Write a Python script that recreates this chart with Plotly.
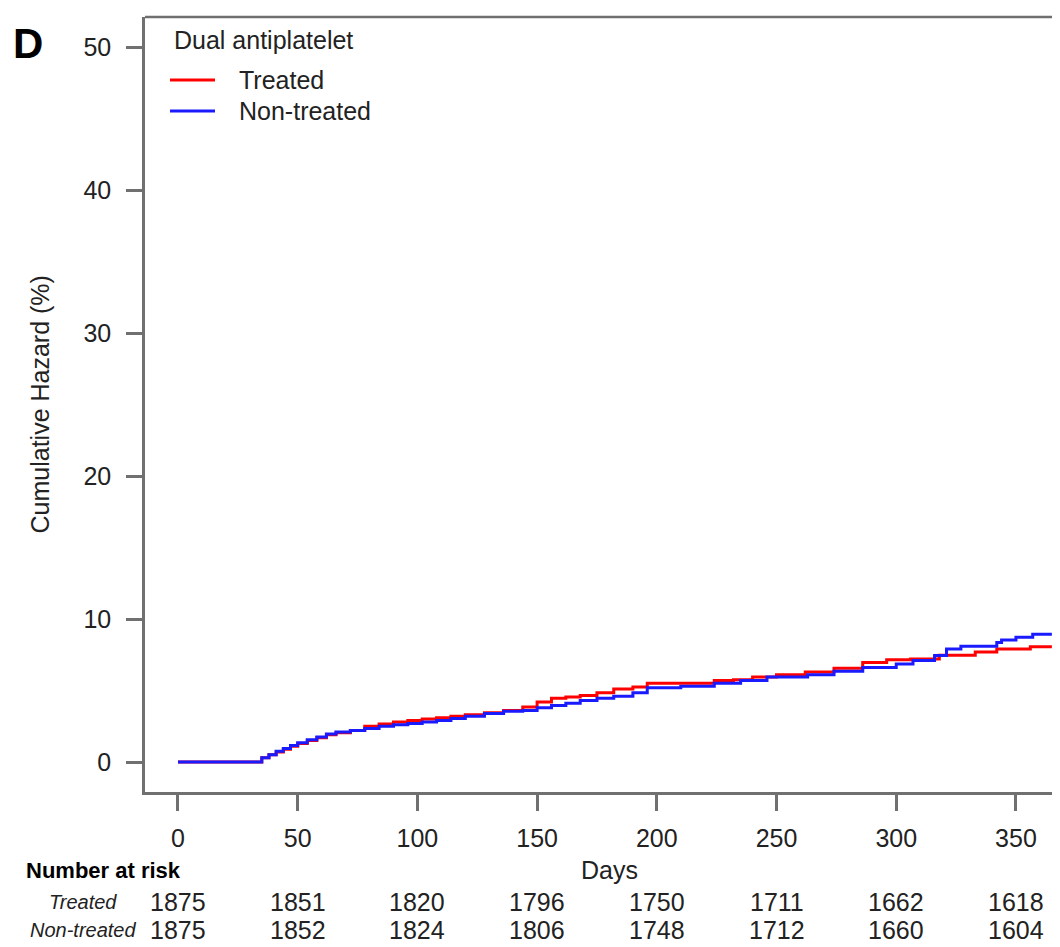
import plotly.graph_objects as go

# ---- data ----
treated_days = [0, 32, 35, 38, 41, 44, 47, 50, 54, 58, 62, 66, 72, 78, 84, 90, 96, 102, 108, 114,
                120, 128, 136, 144, 150, 156, 162, 168, 175, 182, 190, 196, 210, 224, 232, 240,
                250, 262, 274, 286, 296, 306, 318, 333, 342, 356, 365]
treated_haz = [0, 0, 0.3, 0.5, 0.7, 0.9, 1.1, 1.3, 1.5, 1.7, 1.9, 2.05, 2.2, 2.5, 2.65, 2.8, 2.9,
               3.0, 3.1, 3.2, 3.3, 3.45, 3.6, 3.85, 4.2, 4.45, 4.55, 4.65, 4.85, 5.1, 5.25, 5.5,
               5.5, 5.7, 5.75, 5.95, 6.1, 6.3, 6.55, 6.95, 7.15, 7.2, 7.47, 7.7, 7.9, 8.06, 8.06]

nontreated_days = [0, 32, 35, 38, 41, 44, 47, 50, 54, 58, 62, 66, 72, 78, 84, 90, 96, 102, 108,
                   114, 120, 128, 136, 144, 150, 156, 162, 168, 175, 182, 190, 196, 210, 224, 235,
                   246, 263, 274, 286, 300, 307, 316, 321, 327, 342, 344, 350, 357, 365]
nontreated_haz = [0, 0, 0.3, 0.5, 0.75, 0.95, 1.15, 1.35, 1.55, 1.75, 1.95, 2.1, 2.2, 2.35, 2.5,
                  2.6, 2.7, 2.8, 2.9, 3.05, 3.2, 3.4, 3.55, 3.6, 3.8, 3.95, 4.1, 4.3, 4.45, 4.6,
                  4.85, 5.2, 5.3, 5.5, 5.7, 5.95, 6.1, 6.35, 6.6, 6.85, 7.1, 7.45, 7.9, 8.1, 8.35,
                  8.53, 8.72, 8.93, 8.93]

x_ticks = [0, 50, 100, 150, 200, 250, 300, 350]
y_ticks = [0, 10, 20, 30, 40, 50]
risk_treated = [1875, 1851, 1820, 1796, 1750, 1711, 1662, 1618]
risk_nontreated = [1875, 1852, 1824, 1806, 1748, 1712, 1660, 1604]
series_names = ["Treated", "Non-treated"]
series_colors = ["#ff0000", "#1a1aff"]
legend_title = "Dual antiplatelet"

FONT = "Liberation Sans, Arial, sans-serif"
TXT = "#222222"
AX = "#707070"

OFF = 8  # default page body margin
W, H = 1060 - OFF, 947 - OFF
# desired plot box in page pixels: left 145, top 17, bottom 792, right 1060
ML = 145 - OFF
MT = 17 - OFF
MR = 0
MB = H - (792 - OFF)
PW = W - ML - MR
PH = H - MT - MB


def px_x(px):  # page pixel -> paper x
    return (px - OFF - ML) / PW


def px_y(py):  # page pixel -> paper y
    return (H - MB - (py - OFF)) / PH


fig = go.Figure()
fig.add_trace(go.Scatter(x=treated_days, y=treated_haz, mode="lines", name=series_names[0],
                         line=dict(color=series_colors[0], width=3, shape="hv"), showlegend=False))
fig.add_trace(go.Scatter(x=nontreated_days, y=nontreated_haz, mode="lines", name=series_names[1],
                         line=dict(color=series_colors[1], width=3, shape="hv"), showlegend=False))

fig.update_layout(
    width=W, height=H,
    margin=dict(l=ML, r=MR, t=MT, b=MB, pad=0),
    plot_bgcolor="white", paper_bgcolor="white",
    font=dict(family=FONT, size=25, color=TXT),
    showlegend=False,
    xaxis=dict(
        range=[-13.78, 368.4], tickvals=x_ticks, ticks="outside", ticklen=16, tickwidth=2.5,
        tickcolor=AX, showline=True, linecolor=AX, linewidth=2.5, showgrid=False, zeroline=False,
        tickfont=dict(size=25, color=TXT), ticklabelstandoff=6,
    ),
    yaxis=dict(
        range=[-2.098, 52.1], tickvals=y_ticks, ticks="outside", ticklen=16, tickwidth=2.5,
        tickcolor=AX, showline=True, linecolor=AX, linewidth=2.5, showgrid=False, zeroline=False,
        tickfont=dict(size=25, color=TXT), ticklabelstandoff=10,
    ),
)

# top frame line
fig.add_shape(type="line", xref="paper", yref="paper", x0=0, x1=1, y0=1, y1=1,
              line=dict(color=AX, width=2.5))

ann = []
# legend (key lines + labels)
ann.append(dict(text=legend_title, x=px_x(172), y=px_y(40), xref="paper", yref="paper",
                showarrow=False, font=dict(size=25, color=TXT), xanchor="left", yanchor="middle"))
for i, (nm, col) in enumerate(zip(series_names, series_colors)):
    ly = [80, 111][i]
    fig.add_shape(type="line", xref="paper", yref="paper", x0=px_x(170), x1=px_x(215),
                  y0=px_y(ly), y1=px_y(ly), line=dict(color=col, width=3))
    ann.append(dict(text=nm, x=px_x(237), y=px_y(ly), xref="paper", yref="paper",
                    showarrow=False, font=dict(size=25, color=TXT), xanchor="left", yanchor="middle"))

ann.append(dict(text="<b>D</b>", x=px_x(28), y=px_y(44), xref="paper", yref="paper",
                showarrow=False, font=dict(size=42, color="black"), xanchor="center", yanchor="middle"))
ann.append(dict(text="Cumulative Hazard (%)", x=px_x(39), y=0.5, xref="paper", yref="paper",
                showarrow=False, textangle=-90, font=dict(size=25, color=TXT),
                xanchor="center", yanchor="middle"))
ann.append(dict(text="Days", x=px_x(609), y=px_y(870), xref="paper", yref="paper",
                showarrow=False, font=dict(size=25, color=TXT), xanchor="center", yanchor="middle"))
ann.append(dict(text="<b>Number at risk</b>", x=px_x(24), y=px_y(870), xref="paper", yref="paper",
                showarrow=False, font=dict(size=22, color="black"), xanchor="left", yanchor="middle"))
ROW1, ROW2 = 902, 930
ann.append(dict(text="<i>Treated</i>", x=px_x(119), y=px_y(ROW1), xref="paper", yref="paper",
                showarrow=False, font=dict(size=20, color=TXT), xanchor="right", yanchor="middle"))
ann.append(dict(text="<i>Non-treated</i>", x=px_x(138), y=px_y(ROW2), xref="paper", yref="paper",
                showarrow=False, font=dict(size=20, color=TXT), xanchor="right", yanchor="middle"))
for xv, n in zip(x_ticks, risk_treated):
    ann.append(dict(text=str(n), x=xv, y=px_y(ROW1), xref="x", yref="paper", showarrow=False,
                    font=dict(size=25, color=TXT), xanchor="center", yanchor="middle"))
for xv, n in zip(x_ticks, risk_nontreated):
    ann.append(dict(text=str(n), x=xv, y=px_y(ROW2), xref="x", yref="paper", showarrow=False,
                    font=dict(size=25, color=TXT), xanchor="center", yanchor="middle"))
fig.update_layout(annotations=ann)

fig.write_html("out.html")
